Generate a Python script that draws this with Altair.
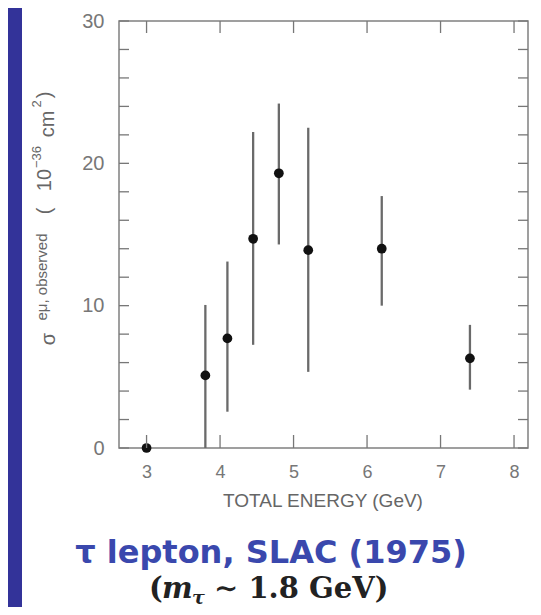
import altair as alt
import pandas as pd

# ---- data ----
energy = [3.0, 3.8, 4.1, 4.45, 4.8, 5.2, 6.2, 7.4]          # GeV
sigma = [0.0, 5.1, 7.7, 14.7, 19.3, 13.9, 14.0, 6.3]         # 10^-36 cm^2
sigma_lo = [0.0, 0.0, 2.55, 7.25, 14.3, 5.35, 10.0, 4.1]
sigma_hi = [0.0, 10.05, 13.1, 22.2, 24.2, 22.5, 17.7, 8.65]
x_tick_values = [3, 4, 5, 6, 7, 8]
y_label_values = [0, 10, 20, 30]
y_minor_ticks = [0, 2, 4, 6, 8, 10, 12, 14, 16, 18, 20, 22, 24, 26, 28, 30]

W, H = 409, 427
df = pd.DataFrame({"E": energy, "s": sigma, "lo": sigma_lo, "hi": sigma_hi})
xt = pd.DataFrame({"E": x_tick_values})
yt = pd.DataFrame({"s": y_minor_ticks})
one = pd.DataFrame({"a": [0]})

xs = alt.Scale(domain=[2.625, 8.19], nice=False, zero=False)
ys = alt.Scale(domain=[0, 30], nice=False, zero=True)

AX = "#777777"
x_axis = alt.Axis(values=x_tick_values, ticks=False, domain=False, grid=False, title=None,
                  labelFontSize=18, labelColor=AX, labelPadding=15,
                  labelFont="Liberation Sans", format="d")
y_axis = alt.Axis(values=y_label_values, ticks=False, domain=False, grid=False, title=None,
                  labelFontSize=20, labelColor=AX, labelPadding=15,
                  labelFont="Liberation Sans", format="d")

strip = alt.Chart(one).mark_rect(color="#333399").encode(
    x=alt.value(-111), x2=alt.value(-97), y=alt.value(-13), y2=alt.value(590)
)

bars = alt.Chart(df).mark_rule(color="#6a6a6a", strokeWidth=2.3).encode(
    x=alt.X("E:Q", scale=xs, axis=x_axis),
    y=alt.Y("lo:Q", scale=ys, axis=y_axis),
    y2="hi:Q",
)

pts = alt.Chart(df).mark_circle(size=95, color="#111111", opacity=1).encode(
    x=alt.X("E:Q", scale=xs, axis=x_axis),
    y=alt.Y("s:Q", scale=ys, axis=y_axis),
)

tick_style = dict(color="#777777", strokeWidth=1.3)
top_ticks = alt.Chart(xt).mark_rule(**tick_style).encode(
    x=alt.X("E:Q", scale=xs, axis=x_axis), y=alt.value(0), y2=alt.value(12))
bot_ticks = alt.Chart(xt).mark_rule(**tick_style).encode(
    x=alt.X("E:Q", scale=xs, axis=x_axis), y=alt.value(H - 13), y2=alt.value(H))
left_ticks = alt.Chart(yt).mark_rule(**tick_style).encode(
    y=alt.Y("s:Q", scale=ys, axis=y_axis), x=alt.value(0), x2=alt.value(10))
right_ticks = alt.Chart(yt).mark_rule(**tick_style).encode(
    y=alt.Y("s:Q", scale=ys, axis=y_axis), x=alt.value(W - 10), x2=alt.value(W))


def txt(s, x, y, size, **kw):
    return alt.Chart(one).mark_text(text=s, fontSize=size, **kw).encode(
        x=alt.value(x), y=alt.value(y))


# page coords -> plot coords: x - 119, y - 21
yt_kw = dict(angle=270, align="center", baseline="middle", font="Liberation Sans", color="#666666")
ytitle = [
    txt("σ", -70, 318, 20, **yt_kw),
    txt("eμ, observed", -77, 256, 15, **yt_kw),
    txt("(", -74, 190, 20, **yt_kw),
    txt("10", -74, 159, 20, **yt_kw),
    txt("−36", -82, 136, 13, **yt_kw),
    txt("cm", -71, 103, 20, **yt_kw),
    txt("2", -82, 83, 13, **yt_kw),
    txt(")", -74, 74, 20, **yt_kw),
]

xtitle = txt("TOTAL ENERGY (GeV)", 204, 480, 19, align="center", baseline="middle",
             font="Liberation Sans", color="#666666")

line1 = txt("τ lepton, SLAC (1975)", 152, 542, 32, align="center", baseline="alphabetic",
            font="DejaVu Sans", fontWeight="bold", color="#3a48ad")

l2 = dict(baseline="alphabetic", align="left", font="DejaVu Serif", fontWeight="bold", color="#222222")
line2 = [
    txt("(", 30, 577, 29, **l2),
    txt("m", 43, 577, 29, fontStyle="italic", **l2),
    txt("τ", 73, 583, 19, fontStyle="italic", **l2),
    txt("∼ 1.8 GeV)", 95, 577, 29, **l2),
]

chart = alt.layer(
    strip, bars, pts, top_ticks, bot_ticks, left_ticks, right_ticks,
    *ytitle, xtitle, line1, *line2
).properties(
    width=W, height=H,
    padding={"left": 111, "top": 13, "right": 5, "bottom": 159},
    autosize=alt.AutoSizeParams(type="none"),
    background="white",
).configure_view(stroke="#808080", strokeWidth=1.5)

chart.save("out.html", embed_options={"renderer": "svg", "actions": False})
